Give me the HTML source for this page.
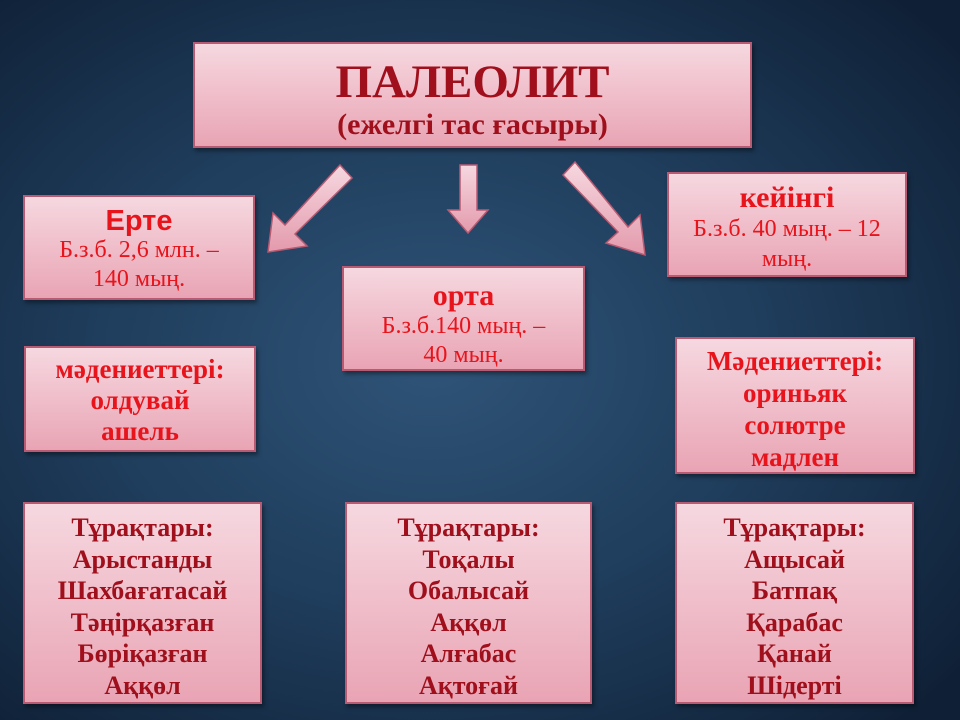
<!DOCTYPE html>
<html><head><meta charset="utf-8"><style>
body{margin:0;width:960px;height:720px;overflow:hidden;background:radial-gradient(ellipse 70% 70% at 45% 50%,#2f5478 0%,#1f3d5c 50%,#0f2036 100%);font-family:"Liberation Serif",serif;}
.b{position:absolute;box-sizing:border-box;border:2px solid #b85a72;background:linear-gradient(#f6d8e0,#e9a4b4);text-align:center;color:#e8141c;box-shadow:2px 3px 4px rgba(0,0,0,.4);white-space:nowrap;}
.d{color:#a0101c;font-weight:bold;}
.s{font-family:"Liberation Sans",sans-serif;font-weight:bold;}
</style></head><body>
<div class="b d" style="left:193px;top:42px;width:559px;height:106px;"><div style="font-size:47px;line-height:52px;margin-top:12px">ПАЛЕОЛИТ</div><div style="font-size:30px;line-height:34px;">(ежелгі тас ғасыры)</div></div>
<div class="b" style="left:23px;top:195px;width:232px;height:105px;"><div class="s" style="font-size:29px;line-height:30px;margin-top:9px">Ерте</div><div style="font-size:24px;line-height:29px">Б.з.б. 2,6 млн. –<br>140 мың.</div></div>
<div class="b" style="left:342px;top:266px;width:243px;height:105px;"><div style="font-size:30px;font-weight:bold;line-height:32px;margin-top:12px">орта</div><div style="font-size:24px;line-height:29px">Б.з.б.140 мың. –<br>40 мың.</div></div>
<div class="b" style="left:667px;top:172px;width:240px;height:105px;"><div style="font-size:30px;font-weight:bold;line-height:32px;margin-top:8px">кейінгі</div><div style="font-size:24px;line-height:30px">Б.з.б. 40 мың. – 12<br>мың.</div></div>
<div class="b" style="left:24px;top:346px;width:232px;height:106px;font-weight:bold;font-size:27px;line-height:31px;padding-top:6px">мәдениеттері:<br>олдувай<br>ашель</div>
<div class="b" style="left:675px;top:337px;width:240px;height:137px;font-weight:bold;font-size:27px;line-height:32px;padding-top:6px">Мәдениеттері:<br>ориньяк<br>солютре<br>мадлен</div>
<div class="b d" style="left:23px;top:502px;width:239px;height:202px;font-size:26px;line-height:31.6px;padding-top:8px">Тұрақтары:<br>Арыстанды<br>Шахбағатасай<br>Тәңірқазған<br>Бөріқазған<br>Аққөл</div>
<div class="b d" style="left:345px;top:502px;width:247px;height:202px;font-size:26px;line-height:31.6px;padding-top:8px">Тұрақтары:<br>Тоқалы<br>Обалысай<br>Аққөл<br>Алғабас<br>Ақтоғай</div>
<div class="b d" style="left:675px;top:502px;width:239px;height:202px;font-size:26px;line-height:31.6px;padding-top:8px">Тұрақтары:<br>Ащысай<br>Батпақ<br>Қарабас<br>Қанай<br>Шідерті</div>
<svg style="position:absolute;left:0;top:0" width="960" height="720">
<defs><linearGradient id="g" x1="0" y1="0" x2="0" y2="1"><stop offset="0" stop-color="#f6d8e0"/><stop offset="1" stop-color="#e39aac"/></linearGradient></defs>
<g fill="url(#g)" stroke="#b85a72" stroke-width="1.5">
<polygon points="340,165 352,178 295,234 307,246 268,252 273,213 285,225"/>
<polygon points="460,165 477,165 477,210 488,210 468,233 448,210 460,210"/>
<polygon points="575,162 563,175 618,232 606,243 645,255 640,215 628,227"/>
</g></svg>
</body></html>
